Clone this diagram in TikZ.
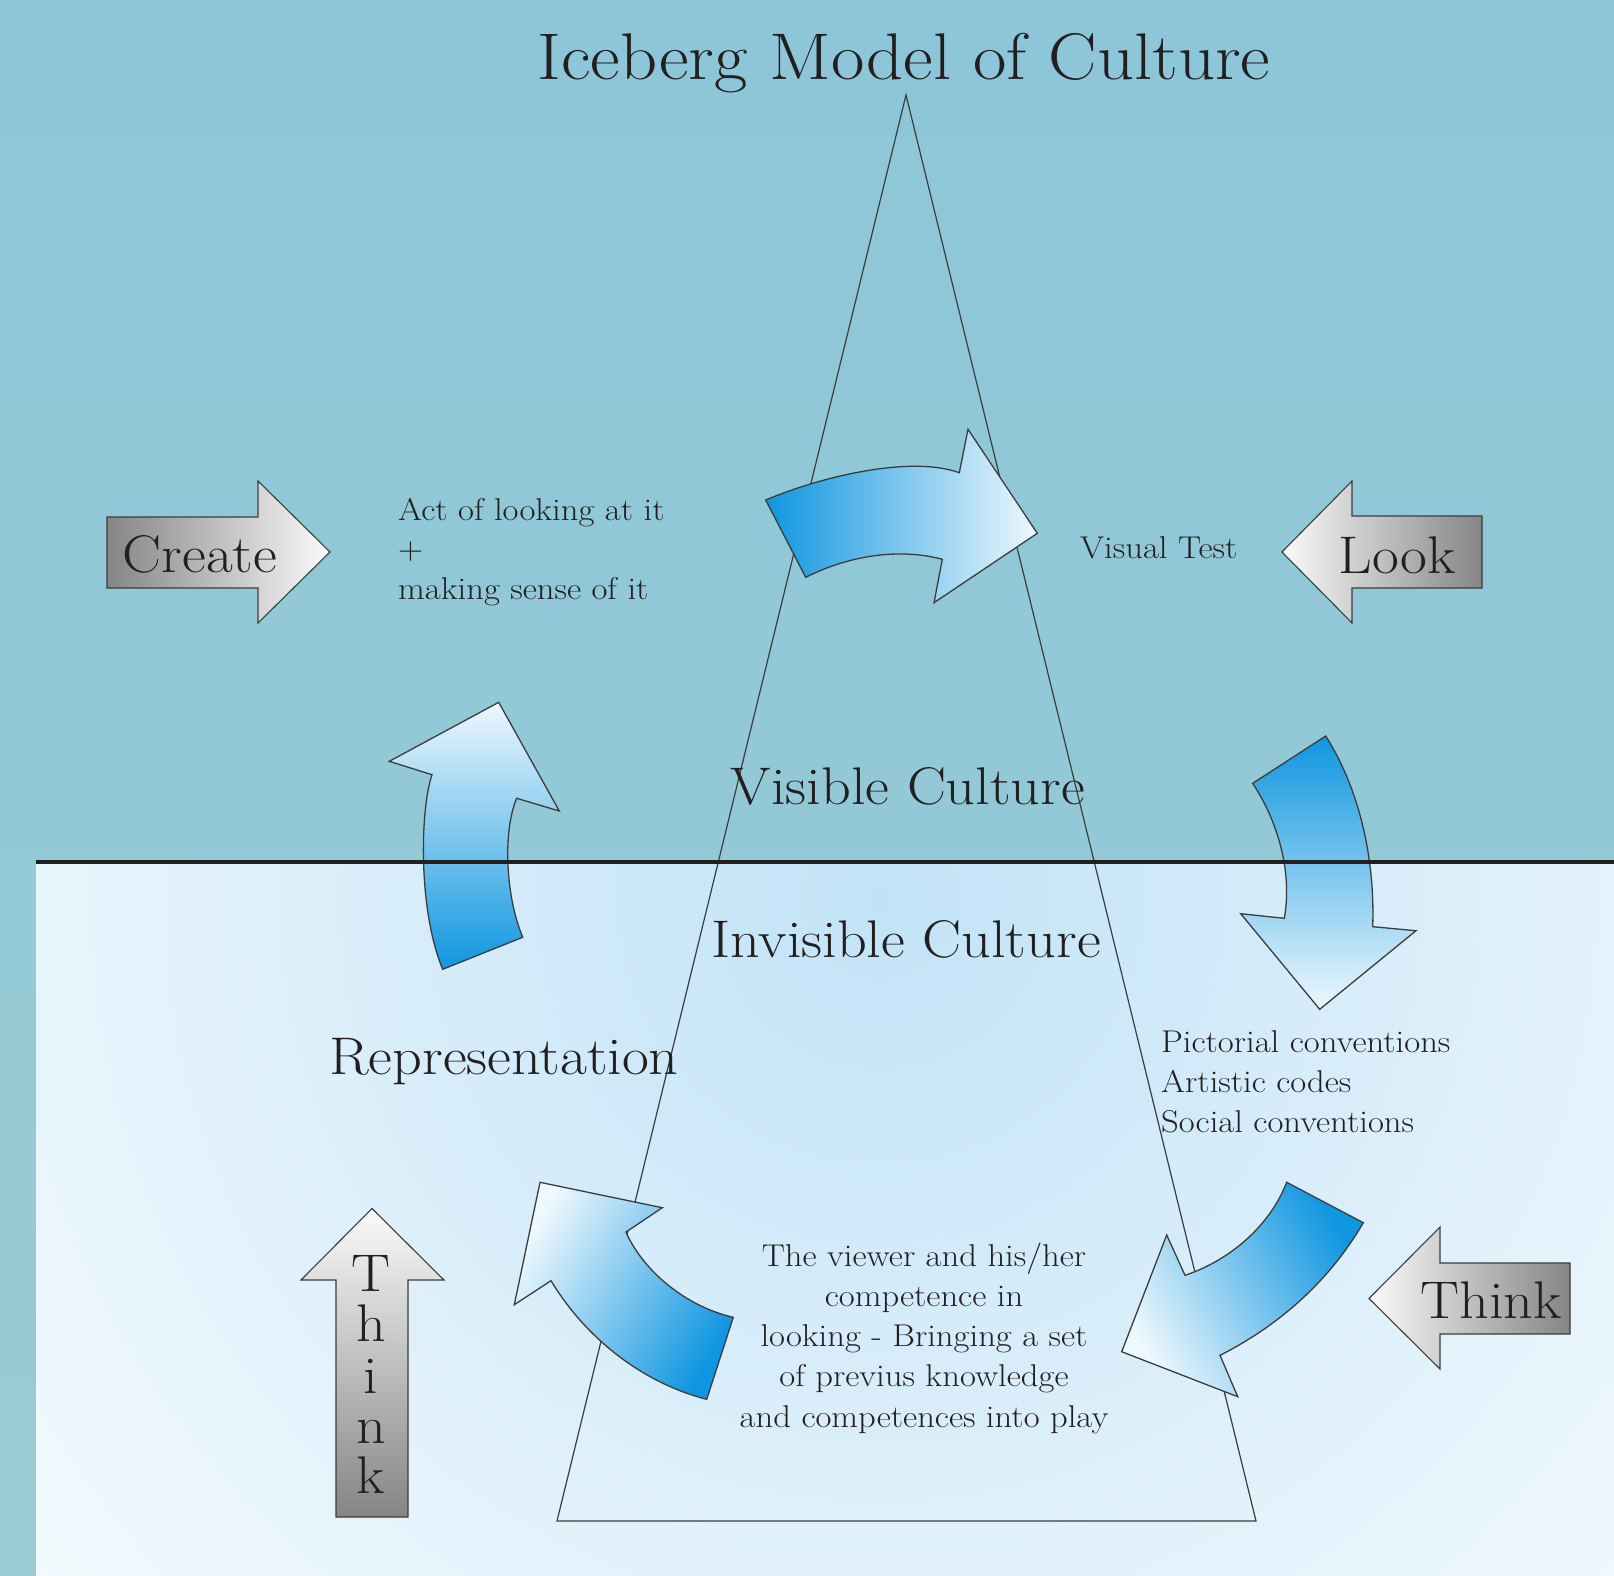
\documentclass[tikz,border=0pt]{standalone}
\definecolor{bgtop}{HTML}{8DC6D9}
\definecolor{bgbot}{HTML}{99CCD3}
\definecolor{seain}{HTML}{C2E3F7}
\definecolor{seaout}{HTML}{F6FBFE}
\definecolor{bdark}{HTML}{0F96E0}
\definecolor{blight}{HTML}{EEF8FD}
\definecolor{gdark}{HTML}{858585}
\definecolor{glight}{HTML}{FAFAFA}
\definecolor{edgec}{HTML}{3C3C3C}
\definecolor{ink}{HTML}{231F20}
\newcommand{\widetxt}[1]{\scalebox{1.1}[1]{#1}}
\begin{document}
\begin{tikzpicture}[x=1pt,y=-1pt,
  bluearrow/.style={draw=edgec, line width=1.3pt, line join=miter},
  grayarrow/.style={draw=edgec, line width=1.1pt},
  bodytext/.style={font=\fontsize{31.5}{40}\selectfont, text=ink, inner sep=0pt},
  bigtext/.style={font=\fontsize{53}{60}\selectfont, text=ink, inner sep=0pt},
  titletext/.style={font=\fontsize{66}{70}\selectfont, text=ink, inner sep=0pt}]
\useasboundingbox (0,0) rectangle (1614,1576);
% backgrounds
\shade[top color=bgtop, bottom color=bgbot] (0,0) rectangle (1614,1576);
\begin{scope}
  \clip (36,862) rectangle (1614,1576);
  \fill[seaout] (36,862) rectangle (1614,1576);
  \shade[inner color=seain, outer color=seaout] (880,900) circle (1150);
\end{scope}
% iceberg triangle
\draw[edgec, line width=1.2pt, line join=miter] (906,95) coordinate (apex) -- (557,1521) coordinate (bl) -- (1256,1521) coordinate (br) -- cycle;
% blue curved arrows
\shadedraw[bluearrow, left color=bdark, right color=blight]
  (765.7,500) .. controls (820,477) and (910,455) .. (959.3,472.7)
  -- (968,429.3) -- (1037.3,533.3) -- (934,602.7) -- (942.3,559.3)
  .. controls (900,548) and (850,555) .. (805.7,577.3) -- cycle;
\shadedraw[bluearrow, top color=blight, bottom color=bdark]
  (498.7,702.3) -- (389.3,761.3) -- (432,774.7)
  .. controls (420,810) and (418,910) .. (442.7,969.3)
  -- (522.7,937.3) .. controls (505,895) and (503,830) .. (516.7,798.3)
  -- (559.3,811) -- cycle;
\shadedraw[bluearrow, top color=bdark, bottom color=blight]
  (1325.7,736) -- (1252.7,783.3) .. controls (1280,825) and (1292,875) .. (1284.3,918.3)
  -- (1240.7,913.7) -- (1319.7,1009.3) -- (1416,930.7) -- (1372.7,926.7)
  .. controls (1375,860) and (1360,790) .. (1325.7,736) -- cycle;
\shadedraw[bluearrow, top color=blight, bottom color=bdark, shading angle=60]
  (540,1182.3) -- (662.3,1207.7) -- (626,1232)
  .. controls (640,1265) and (680,1305) .. (733.3,1317.3)
  -- (706.7,1399.3) .. controls (650,1385) and (590,1345) .. (551,1280.7)
  -- (514.3,1304.7) -- cycle;
\shadedraw[bluearrow, top color=bdark, bottom color=blight, shading angle=-60]
  (1286.7,1182.3) -- (1363.3,1222.7) .. controls (1330,1280) and (1280,1325) .. (1220,1355.3)
  -- (1237.7,1396.7) -- (1121.7,1351.7) -- (1166.7,1235) -- (1185,1275.3)
  .. controls (1225,1262) and (1268,1230) .. (1286.7,1182.3) -- cycle;
% gray block arrows
\shadedraw[grayarrow, left color=gdark, right color=glight]
  (107,517) -- (258,517) -- (258,481) -- (330,552) -- (258,623) -- (258,588) -- (107,588) -- cycle;
\shadedraw[grayarrow, left color=glight, right color=gdark]
  (1282,552) -- (1352,481) -- (1352,516) -- (1482,516) -- (1482,588) -- (1352,588) -- (1352,623) -- cycle;
\shadedraw[grayarrow, left color=glight, right color=gdark]
  (1369,1298.5) -- (1440,1227) -- (1440,1263) -- (1570,1263) -- (1570,1334) -- (1440,1334) -- (1440,1369) -- cycle;
\shadedraw[grayarrow, top color=glight, bottom color=gdark]
  (372,1208.5) -- (444,1280) -- (408,1280) -- (408,1517) -- (336,1517) -- (336,1280) -- (301,1280) -- cycle;
% waterline
\draw[ink, line width=4.5pt] (36,862) coordinate (wl) -- (1614,862) coordinate (wr);
% texts
\node[titletext, anchor=base] (title) at (904,80) {\widetxt{Iceberg Model of Culture}};
\node[bigtext, anchor=base] (visible) at (908,804) {\widetxt{Visible Culture}};
\node[bigtext, anchor=base] (invisible) at (906,957) {\widetxt{Invisible Culture}};
\node[bigtext, anchor=base] (repr) at (504,1074) {\widetxt{Representation}};
\node[bigtext, anchor=base] (create) at (200,572) {\widetxt{Create}};
\node[bigtext, anchor=base] (look) at (1397,573) {\widetxt{Look}};
\node[bigtext, anchor=base] (thinkr) at (1491,1318.5) {\widetxt{Think}};
\node[bigtext, anchor=base] (tk1) at (371,1291.7) {\widetxt{T}};
\node[bigtext, anchor=base] (tk2) at (371,1341.7) {\widetxt{h}};
\node[bigtext, anchor=base] (tk3) at (371,1393.3) {\widetxt{i}};
\node[bigtext, anchor=base] (tk4) at (371,1443.3) {\widetxt{n}};
\node[bigtext, anchor=base] (tk5) at (371,1493.3) {\widetxt{k}};
\node[bodytext, anchor=base west] (act1) at (398,520) {\widetxt{Act of looking at it}};
\node[bodytext, anchor=base west] (act2) at (398,559.5) {\widetxt{+}};
\node[bodytext, anchor=base west] (act3) at (398,599) {\widetxt{making sense of it}};
\node[bodytext, anchor=base west] (vt) at (1080,558) {\widetxt{Visual Test}};
\node[bodytext, anchor=base west] (pc1) at (1161,1052) {\widetxt{Pictorial conventions}};
\node[bodytext, anchor=base west] (pc2) at (1161,1092) {\widetxt{Artistic codes}};
\node[bodytext, anchor=base west] (pc3) at (1161,1132) {\widetxt{Social conventions}};
\node[bodytext, anchor=base] (vw1) at (924,1266) {\widetxt{The viewer and his/her}};
\node[bodytext, anchor=base] (vw2) at (924,1306) {\widetxt{competence in}};
\node[bodytext, anchor=base] (vw3) at (924,1346) {\widetxt{looking - Bringing a set}};
\node[bodytext, anchor=base] (vw4) at (924,1386) {\widetxt{of previus knowledge}};
\node[bodytext, anchor=base] (vw5) at (924,1427) {\widetxt{and competences into play}};
\end{tikzpicture}
\end{document}
